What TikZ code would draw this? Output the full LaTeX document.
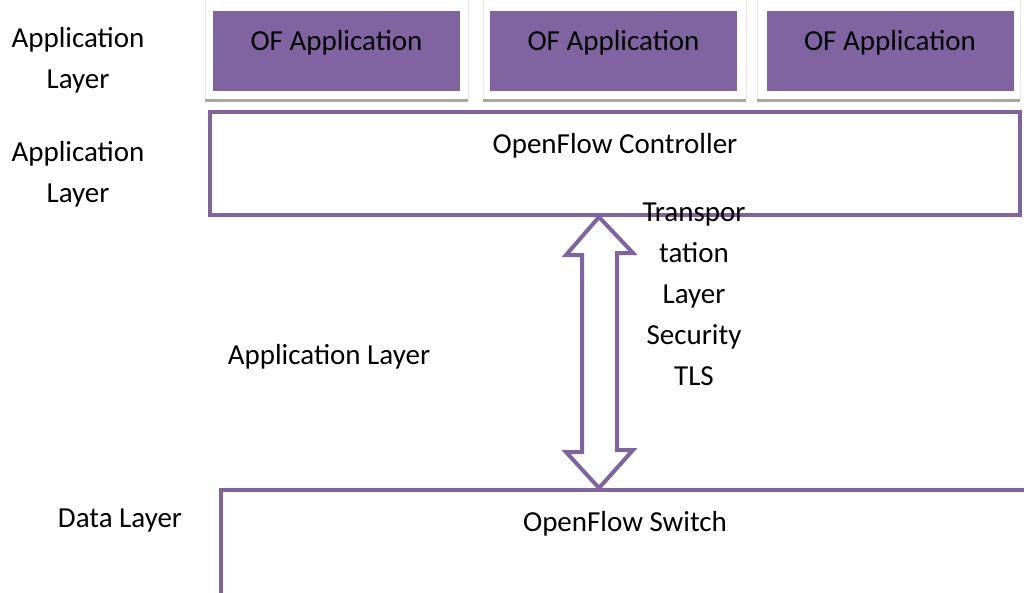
\documentclass[tikz,border=0pt]{standalone}
\usepackage{fontspec}
\setmainfont{Carlito}
\definecolor{ofpurple}{HTML}{8064A2}
\definecolor{framegrey}{HTML}{A6A6A6}
\definecolor{edgegrey}{HTML}{E4E4E4}
\tikzset{
  txt/.style={font=\fontsize{29}{41}\selectfont, text=black, inner sep=0pt, align=center},
  appbox/.style={fill=ofpurple, draw=none, minimum width=247pt, minimum height=80pt, inner sep=0pt},
  layerbox/.style={draw=ofpurple, line width=4pt, fill=white},
  tlsarrow/.style={draw=ofpurple, line width=4pt, fill=white, line join=miter},
}
\begin{document}
\begin{tikzpicture}[x=1pt, y=-1pt]
  \useasboundingbox (0,0) rectangle (1024,592);
  \fill[white] (0,0) rectangle (1024,592);
  \clip (0,0) rectangle (1024,592);

  % frames holding the applications
  \foreach \l/\r in {205/468, 483/746, 757/1020}{
    \draw[edgegrey, line width=1pt] (\l,0) -- (\l,100);
    \draw[edgegrey, line width=1pt] (\r,0) -- (\r,100);
    \draw[framegrey, line width=3pt] (\l,100) -- (\r,100);
  }

  % application boxes
  \node[appbox] (app1) at (336.5,51) {};
  \node[appbox] (app2) at (613.5,51) {};
  \node[appbox] (app3) at (890,51) {};
  \node[txt] (app1t) at (336.5,43) {OF Application};
  \node[txt] (app2t) at (613.5,43) {OF Application};
  \node[txt] (app3t) at (890,43) {OF Application};

  % controller and switch
  \node[layerbox, minimum width=810pt, minimum height=103pt, inner sep=0pt] (ctrl) at (615,163.5) {};
  \node[txt] (ctrlt) at (615,146) {OpenFlow Controller};
  \node[layerbox, minimum width=820pt, minimum height=110pt, inner sep=0pt] (sw) at (631,545) {};
  \node[txt] (swt) at (625,524) {OpenFlow Switch};

  % secure channel between controller and switch
  \coordinate (tip1) at (ctrl.south -| 599,0);
  \coordinate (tip2) at (sw.north -| 599,0);
  \draw[tlsarrow] (tip1) -- ++(34,36) -- ++(-16,0) -- ++(0,197) -- ++(16,0)
    -- (tip2) -- ++(-33,-36) -- ++(16,0) -- ++(0,-197) -- ++(-16,0) -- cycle;
  \node[txt] (tls) at (694,294) {Transpor\\tation\\Layer\\Security\\TLS};

  % layer labels
  \node[txt] (lab1) at (78,60.5) {Application\\Layer};
  \node[txt] (lab2) at (78,174.5) {Application\\Layer};
  \node[txt] (lab3) at (329,357) {Application Layer};
  \node[txt] (lab4) at (120,521) {Data Layer};
\end{tikzpicture}
\end{document}
